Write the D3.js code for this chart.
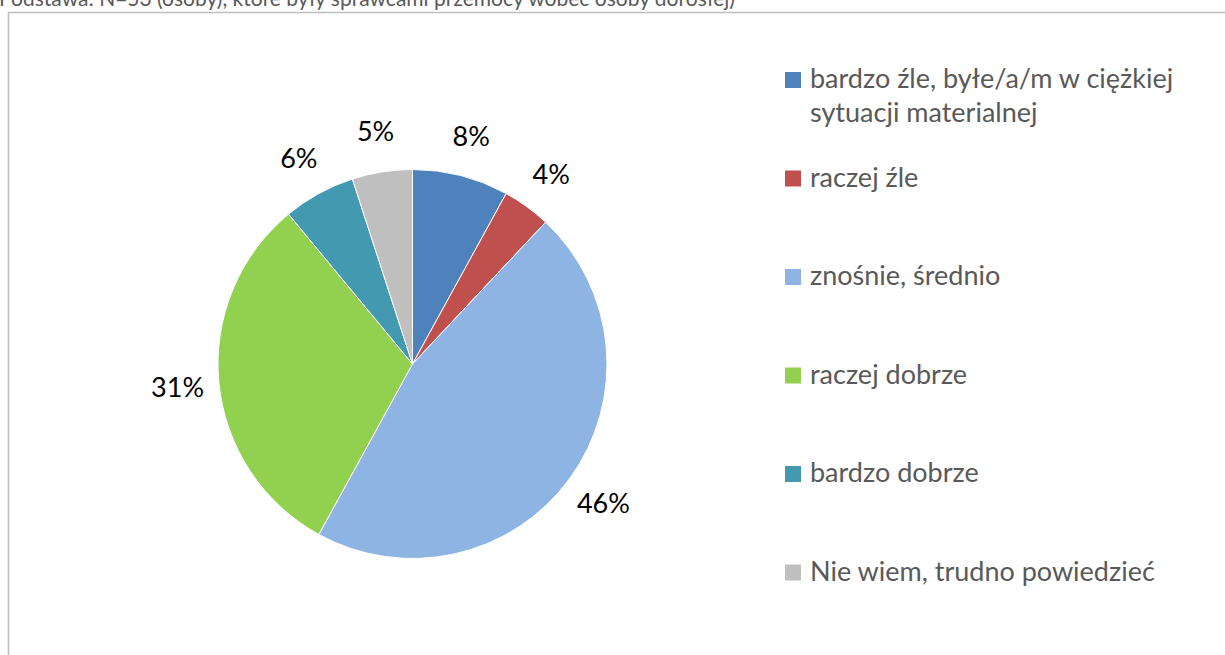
<!DOCTYPE html>
<html>
<head>
<meta charset="utf-8">
<script src="https://cdn.jsdelivr.net/npm/d3@7"></script>
<style>
  html, body { margin: 0; padding: 0; background: #ffffff; }
  svg { display: block; }
</style>
</head>
<body>
<svg id="chart" width="1225" height="655"></svg>
<script>
// Answer categories (legend order = slice order, clockwise from 12 o'clock)
const categories = [
  "bardzo źle, byłe/a/m w ciężkiej sytuacji materialnej",
  "raczej źle",
  "znośnie, średnio",
  "raczej dobrze",
  "bardzo dobrze",
  "Nie wiem, trudno powiedzieć"
];
// Share of respondents, percent
const values = [8, 4, 46, 31, 6, 5];
const sliceColors = ["#4F81BD", "#C0504D", "#8EB4E3", "#92D050", "#4399AF", "#BFBFBF"];
const noteText = "Podstawa: N=53 (osoby), które były sprawcami przemocy wobec osoby dorosłej)";

const W = 1225, H = 655;
const FONT = "Lato, 'Open Sans', 'DejaVu Sans', sans-serif";
const svg = d3.select("#chart");

// base note, partly above the frame
svg.append("text")
  .attr("x", -1).attr("y", 6)
  .attr("font-family", FONT).attr("font-size", 21)
  .attr("fill", "#595959")
  .text(noteText);

// chart frame (left and top edges visible)
svg.append("path")
  .attr("d", d3.line()([[8.5, H], [8.5, 12.5], [W, 12.5]]))
  .attr("fill", "none")
  .attr("stroke", "#BFBFBF")
  .attr("stroke-width", 1.6);

// pie
const cx = 412.5, cy = 364, R = 194.5, labelR = 236;
const pie = d3.pie().sort(null).value(d => d.value).startAngle(0).endAngle(2 * Math.PI);
const data = categories.map((c, i) => ({ name: c, value: values[i], color: sliceColors[i] }));
const arcs = pie(data);
const arc = d3.arc().innerRadius(0).outerRadius(R);
const labelArc = d3.arc().innerRadius(labelR).outerRadius(labelR);

const g = svg.append("g").attr("transform", `translate(${cx},${cy})`);
g.selectAll("path.slice")
  .data(arcs)
  .join("path")
  .attr("class", "slice")
  .attr("d", arc)
  .attr("fill", d => d.data.color)
  .attr("stroke", "#ffffff")
  .attr("stroke-width", 1);

g.selectAll("text.pct")
  .data(arcs)
  .join("text")
  .attr("class", "pct")
  .attr("transform", d => `translate(${labelArc.centroid(d)})`)
  .attr("text-anchor", "middle")
  .attr("dominant-baseline", "central")
  .attr("font-family", FONT)
  .attr("font-size", 27)
  .attr("fill", "#000000")
  .text(d => d.data.value + "%");

// legend
const legX = 785, legY0 = 88, legStep = 98.5, lineH = 33.5, sw = 16, maxW = 380;
const leg = svg.append("g");
data.forEach((d, i) => {
  const by = legY0 + i * legStep;
  leg.append("rect")
    .attr("x", legX).attr("y", by - sw)
    .attr("width", sw).attr("height", sw)
    .attr("fill", d.color);
  const t = leg.append("text")
    .attr("x", legX + 25).attr("y", by)
    .attr("font-family", FONT).attr("font-size", 27)
    .attr("fill", "#595959");
  // word wrap to the legend width
  const words = d.name.split(" ");
  let line = [], lineNo = 0;
  let ts = t.append("tspan").attr("x", legX + 25).attr("dy", 0);
  words.forEach(w => {
    line.push(w);
    ts.text(line.join(" "));
    if (ts.node().getComputedTextLength() > maxW && line.length > 1) {
      line.pop();
      ts.text(line.join(" "));
      line = [w];
      lineNo++;
      ts = t.append("tspan").attr("x", legX + 25).attr("dy", lineH).text(w);
    }
  });
});
</script>
</body>
</html>
